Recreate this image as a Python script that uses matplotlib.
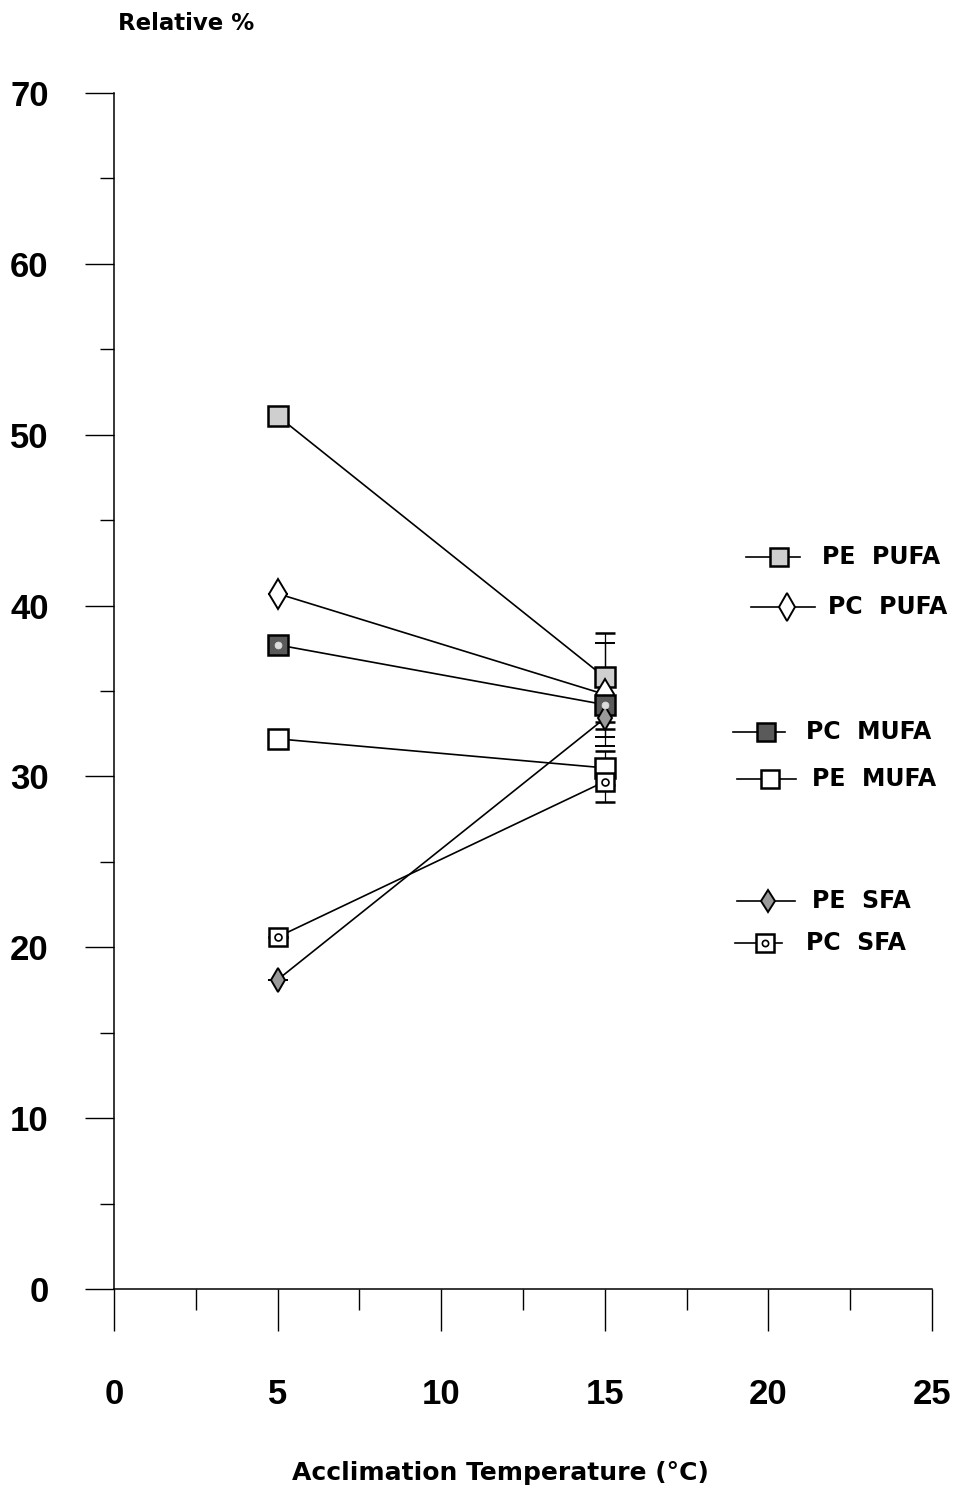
import matplotlib
matplotlib.use("Agg")
import matplotlib.pyplot as plt
from matplotlib.ticker import MultipleLocator
from matplotlib.lines import Line2D

# acclimation temperatures (deg C)
temps = [5, 15]

# relative % of fatty acid classes in PE / PC, with SE at 15 deg C
pe_pufa = [51.1, 35.8]
pc_pufa = [40.7, 34.8]
pc_mufa = [37.7, 34.2]
pe_mufa = [32.2, 30.5]
pe_sfa = [18.1, 33.4]
pc_sfa = [20.6, 29.7]

pe_pufa_err = [0, 2.6]
pc_pufa_err = [0, 3.0]
pc_mufa_err = [0, 1.4]
pe_mufa_err = [0, 1.0]
pe_sfa_err = [0, 1.1]
pc_sfa_err = [0, 1.2]

W, H = 959, 1488
fig = plt.figure(figsize=(W / 100, H / 100), dpi=100)
ax = fig.add_axes([114 / W, 1 - 1289 / H, (932 - 114) / W, (1289 - 93) / H])

bold = dict(family="DejaVu Sans", weight="bold")

styles = {
    "PE PUFA": dict(marker="s", ms=14, mfc="#cfcfcf", mec="k", mew=1.8),
    "PC PUFA": dict(marker="d", ms=15, mfc="white", mec="k", mew=1.4),
    "PC MUFA": dict(marker="s", ms=14, mfc="#5a5a5a", mec="k", mew=1.8),
    "PE MUFA": dict(marker="s", ms=14, mfc="white", mec="k", mew=1.8),
    "PE SFA": dict(marker="d", ms=12, mfc="#9a9a9a", mec="k", mew=1.4),
    "PC SFA": dict(marker="s", ms=13, mfc="white", mec="k", mew=1.8),
}

series = [
    ("PE PUFA", pe_pufa, pe_pufa_err),
    ("PC PUFA", pc_pufa, pc_pufa_err),
    ("PC MUFA", pc_mufa, pc_mufa_err),
    ("PE MUFA", pe_mufa, pe_mufa_err),
    ("PE SFA", pe_sfa, pe_sfa_err),
    ("PC SFA", pc_sfa, pc_sfa_err),
]

for name, vals, err in series:
    ax.errorbar(temps, vals, yerr=err, color="k", lw=1.2, elinewidth=0.9,
                capsize=7, capthick=0.9, zorder=3, **styles[name])
    if name == "PC SFA":
        # small ring inside the square marker
        ax.plot(temps, vals, ls="none", marker="o", ms=5, mfc="white",
                mec="k", mew=1.2, zorder=4)
    if name == "PC MUFA":
        ax.plot(temps, vals, ls="none", marker="o", ms=5, mfc="#dddddd",
                mec="#dddddd", mew=0.5, zorder=4)

ax.set_xlim(0, 25)
ax.set_ylim(0, 70)
ax.xaxis.set_major_locator(MultipleLocator(5))
ax.xaxis.set_minor_locator(MultipleLocator(2.5))
ax.yaxis.set_major_locator(MultipleLocator(10))
ax.yaxis.set_minor_locator(MultipleLocator(5))
for s in ["top", "right"]:
    ax.spines[s].set_visible(False)
for s in ["left", "bottom"]:
    ax.spines[s].set_linewidth(1.1)

ax.tick_params(axis="x", which="major", direction="out", length=30, width=1.0, pad=34)
ax.tick_params(axis="x", which="minor", direction="out", length=15, width=1.0)
ax.tick_params(axis="y", which="major", direction="out", length=21, width=1.0, pad=26)
ax.tick_params(axis="y", which="minor", direction="out", length=10, width=1.0)
for lab in ax.get_xticklabels() + ax.get_yticklabels():
    lab.set_fontsize(25)
    lab.set_fontfamily("Liberation Sans")
    lab.set_fontweight("bold")

fig.text(118 / W, 1 - 24 / H, "Relative %", fontsize=16.5, va="center", ha="left", **bold)
fig.text(500 / W, 1 - 1473 / H, "Acclimation Temperature (°C)", fontsize=18,
         va="center", ha="center", **bold)

# legend entries: (name, line start, line end, marker x, y, text x) in pixels
legend_layout = [
    ("PE PUFA", 746, 800, 779, 557, 822),
    ("PC PUFA", 751, 815, 787, 607, 828),
    ("PC MUFA", 733, 785, 766, 732, 806),
    ("PE MUFA", 737, 796, 770, 779, 812),
    ("PE SFA", 737, 795, 768, 901, 812),
    ("PC SFA", 735, 782, 765, 943, 806),
]
for name, x0, x1, xm, y, xt in legend_layout:
    yf = 1 - y / H
    fig.add_artist(Line2D([x0 / W, x1 / W], [yf, yf], color="k", lw=1.2))
    st = dict(styles[name])
    st["ms"] = st["ms"] * 0.95
    fig.add_artist(Line2D([xm / W], [yf], ls="none", **st))
    if name == "PC SFA":
        fig.add_artist(Line2D([xm / W], [yf], ls="none", marker="o", ms=4.5,
                              mfc="white", mec="k", mew=1.2))
    fig.text(xt / W, yf, name.replace(" ", "  "), fontsize=17, va="center",
             ha="left", **bold)

fig.savefig("out.png", dpi=100)
